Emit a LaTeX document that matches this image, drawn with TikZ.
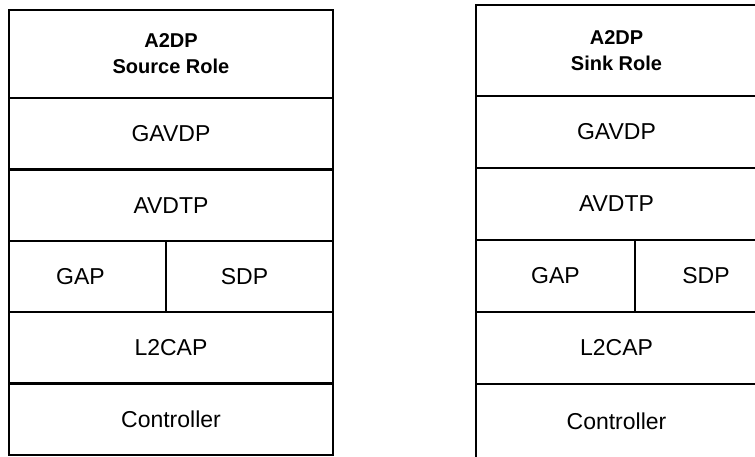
\documentclass[tikz,border=0pt]{standalone}
\usepackage{fontspec}
\setmainfont{Liberation Sans}
\usetikzlibrary{positioning}

\begin{document}
\begin{tikzpicture}[x=1pt,y=-1pt,
    layer/.style={draw,line width=2.5pt,inner sep=0pt,outer sep=0pt,minimum width=324pt,minimum height=71.4pt,font=\fontsize{23}{27}\selectfont},
    role/.style={layer,minimum height=88pt,align=center,font=\fontsize{20}{26}\selectfont\bfseries}]
    \path[use as bounding box] (0,0) rectangle (755,456);
    \clip (0,0) rectangle (755,456);
    % source side
    \node[role,anchor=north west] (srcrole) at (9,10) {A2DP\\Source Role};
    \node[layer] (srcgavdp) [below=0pt of srcrole] {GAVDP};
    \node[layer] (srcavdtp) [below=0pt of srcgavdp] {AVDTP};
    \node[layer,minimum width=157pt] (srcgap) [below right=0pt and 0pt of srcavdtp.south west] {GAP\hspace*{14pt}};
    \node[layer,minimum width=167pt] (srcsdp) [right=0pt of srcgap] {SDP\hspace*{10pt}};
    \node[layer] (srcl2cap) [below right=0pt and 0pt of srcgap.south west] {L2CAP};
    \node[layer] (srcctrl) [below=0pt of srcl2cap] {Controller};
    % sink side
    \begin{scope}[layer/.append style={minimum width=281pt,minimum height=72pt}]
    \node[role,minimum height=91pt,anchor=north west] (snkrole) at (476,5) {A2DP\\Sink Role};
    \node[layer] (snkgavdp) [below=0pt of snkrole] {GAVDP};
    \node[layer] (snkavdtp) [below=0pt of snkgavdp] {AVDTP};
    \node[layer,minimum width=159pt] (snkgap) [below right=0pt and 0pt of snkavdtp.south west] {GAP};
    \node[layer,minimum width=122pt] (snksdp) [right=0pt of snkgap] {\hspace*{20pt}SDP};
    \node[layer] (snkl2cap) [below right=0pt and 0pt of snkgap.south west] {L2CAP};
    \node[layer,minimum height=75pt] (snkctrl) [below=0pt of snkl2cap] {Controller};
    \end{scope}
\end{tikzpicture}
\end{document}
